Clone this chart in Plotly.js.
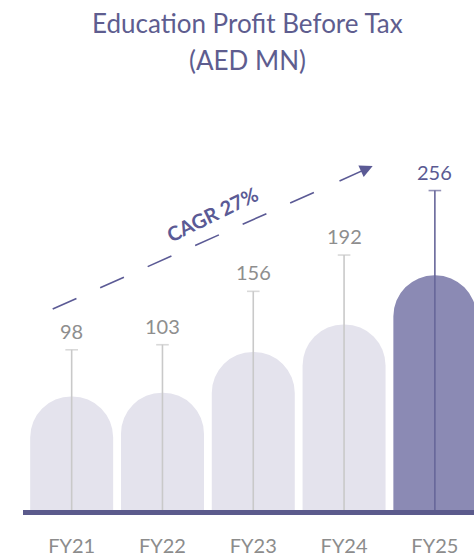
<!DOCTYPE html>
<html>
<head>
<meta charset="utf-8">
<script src="https://cdn.plot.ly/plotly-3.0.1.min.js"></script>
<style>
  html, body { margin: 0; padding: 0; background: #ffffff; }
  #chart { width: 474px; height: 558px; }
</style>
</head>
<body>
<div id="chart"></div>
<script>
// ---- data ----
const categories = ['FY21', 'FY22', 'FY23', 'FY24', 'FY25'];
const profit = [98, 103, 156, 192, 256];
const titleLines = ['Education Profit Before Tax', '(AED MN)'];

// CAGR computed from the first and last values
const n = profit.length;
const cagr = Math.round((Math.pow(profit[n - 1] / profit[0], 1 / (n - 1)) - 1) * 100);
const cagrLabel = 'CAGR ' + cagr + '%';

// ---- layout geometry ----
const W = 474, H = 558;
const M = { l: 26, r: 0, t: 100, b: 48 };
const plotW = W - M.l - M.r, plotH = H - M.t - M.b;
const px = x => (x - M.l) / plotW;
const py = y => (H - M.b - y) / plotH;

// the bars and the lollipop stems use their own linear scales (floor offset, px per unit)
const BAR_FLOOR = -50, BAR_SCALE = 0.767;
const STEM_FLOOR = -61, STEM_SCALE = 1.0077;

// ---- styles ----
const isHi = i => i === n - 1;
const barColor = profit.map((v, i) => isHi(i) ? '#8b8ab4' : '#e4e3ed');
const stemColor = i => isHi(i) ? '#67669a' : '#c9c9c9';
const labelColor = i => isHi(i) ? '#5b5a92' : '#8e8e8e';
const accent = '#5b5a95';
const FONT = 'Lato, "Open Sans", sans-serif';

// bar axis starts at BAR_FLOOR: bar length = value - BAR_FLOOR, drawn from the axis floor
const bars = {
  type: 'bar',
  x: categories,
  y: profit.map(v => v - BAR_FLOOR),
  width: 0.914,
  marker: { color: barColor, cornerradius: '50%', line: { width: 0 } },
  hoverinfo: 'skip',
  xaxis: 'x', yaxis: 'y'
};

const stems = categories.map((c, i) => ({
  type: 'scatter',
  mode: 'lines+markers',
  x: [c, c],
  y: [STEM_FLOOR, profit[i]],
  xaxis: 'x', yaxis: 'y2',
  line: { color: stemColor(i), width: 1.6 },
  marker: { symbol: 'line-ew', size: [0, 9], color: stemColor(i), line: { color: stemColor(i), width: 1.6 } },
  cliponaxis: false,
  hoverinfo: 'skip',
  showlegend: false
}));

const valueLabels = categories.map((c, i) => ({
  x: c, y: profit[i], xref: 'x', yref: 'y2',
  text: String(profit[i]),
  showarrow: false,
  xanchor: 'center', yanchor: 'bottom', yshift: 5,
  font: { family: FONT, size: 20, color: labelColor(i) }
}));

const annotations = [
  { text: titleLines[0], xref: 'paper', yref: 'paper', x: px(247), y: py(22.5),
    xanchor: 'center', yanchor: 'middle', showarrow: false,
    font: { family: FONT, size: 26, color: '#5e5d8f' } },
  { text: titleLines[1], xref: 'paper', yref: 'paper', x: px(247), y: py(60.5),
    xanchor: 'center', yanchor: 'middle', showarrow: false,
    font: { family: FONT, size: 26, color: '#5e5d8f' } },
  { text: '<b>' + cagrLabel + '</b>', xref: 'paper', yref: 'paper', x: px(212), y: py(214),
    xanchor: 'center', yanchor: 'middle', showarrow: false, textangle: -26,
    font: { family: FONT, size: 20, color: accent } },
  { text: '', xref: 'paper', yref: 'paper', x: px(372.7), y: py(166),
    axref: 'pixel', ayref: 'pixel', ax: -34.7, ay: 15.7,
    showarrow: true, arrowhead: 2, arrowsize: 1.6, arrowwidth: 1.6, arrowcolor: accent, standoff: 0 }
].concat(valueLabels);

const shapes = [
  { type: 'line', xref: 'paper', yref: 'paper',
    x0: px(52.7), y0: py(309), x1: px(315), y1: py(192),
    line: { color: accent, width: 1.6, dash: '26px,26px' } },
  { type: 'line', xref: 'paper', yref: 'paper', layer: 'above',
    x0: px(23), x1: px(474), y0: py(512.5), y1: py(512.5),
    line: { color: '#5b5a8c', width: 5 } }
];

const layout = {
  width: W, height: H,
  margin: M,
  paper_bgcolor: '#ffffff', plot_bgcolor: '#ffffff',
  showlegend: false,
  font: { family: FONT },
  xaxis: {
    type: 'category',
    range: [-0.503, 4.431],
    showgrid: false, zeroline: false, showline: false, ticks: '',
    ticklabelstandoff: 22,
    tickfont: { family: FONT, size: 20, color: '#8c8c8c' },
    fixedrange: true, automargin: false
  },
  yaxis: {
    range: [0, plotH / BAR_SCALE],
    visible: false, fixedrange: true
  },
  yaxis2: {
    overlaying: 'y',
    range: [STEM_FLOOR, STEM_FLOOR + plotH / STEM_SCALE],
    visible: false, fixedrange: true
  },
  annotations: annotations,
  shapes: shapes
};

Plotly.newPlot('chart', [bars].concat(stems), layout, { displayModeBar: false, staticPlot: true });
</script>
</body>
</html>
